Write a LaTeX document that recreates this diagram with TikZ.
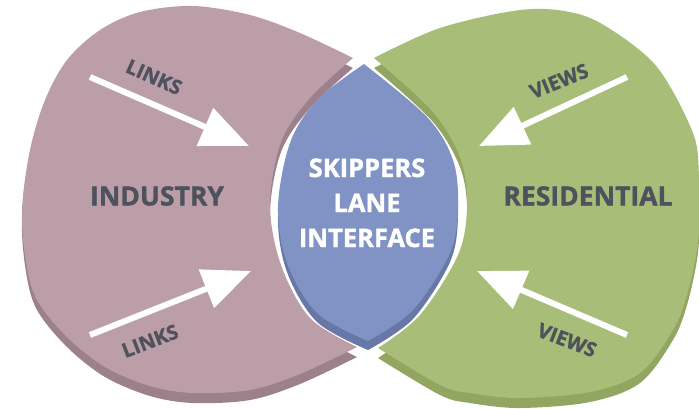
\documentclass[tikz,border=0pt]{standalone}
\usepackage{fontspec}
\setmainfont{Open Sans}[BoldFeatures={FakeBold=1.3}]
\usetikzlibrary{arrows.meta}
\definecolor{pinkface}{RGB}{188,158,168}
\definecolor{pinkside}{RGB}{156,128,140}
\definecolor{greenface}{RGB}{168,189,120}
\definecolor{greenside}{RGB}{146,166,98}
\definecolor{blueface}{RGB}{128,147,196}
\definecolor{blueside}{RGB}{104,120,166}
\definecolor{labelgray}{RGB}{77,82,92}
\newcommand\leftshape[1]{\fill[#1] plot[smooth,tension=0.55] coordinates {(353,58) (300,33) (250,15) (193,6) (140,12) (100,30) (67,60) (45,100) (30,150) (22,210) (26,262) (37,300) (67,337) (105,367) (150,386) (193,393) (250,390) (300,374) (357,347)} -- plot[smooth,tension=0.55] coordinates {(357,347) (310,318) (281,265) (270,205) (281,142) (310,98) (353,58)} -- cycle;}
\newcommand\rightshape[1]{\fill[#1] plot[smooth,tension=0.55] coordinates {(374,58) (440,28) (520,10) (570,12) (607,27) (657,67) (693,133) (699,175) (700,210) (697,250) (687,295) (673,330) (640,373) (590,392) (520,398) (470,393) (440,385) (378,348)} -- plot[smooth,tension=0.55] coordinates {(378,348) (420,315) (458,255) (467,207) (461,160) (433,112) (374,58)} -- cycle;}
\newcommand\lensshape[1]{\fill[#1] plot[smooth,tension=0.55] coordinates {(364,64) (317,100) (290,143) (278,207) (287,263) (317,313) (368,341)} -- plot[smooth,tension=0.55] coordinates {(368,341) (413,310) (450,253) (458,207) (453,160) (427,117) (364,64)} -- cycle;}
\begin{document}
\begin{tikzpicture}[x=1pt,y=-1pt,
  bigtext/.style={font=\bfseries\fontsize{26.5}{32}\selectfont, text=labelgray, inner sep=0pt},
  lenstext/.style={font=\bfseries\fontsize{25.5}{32}\selectfont, text=white, inner sep=0pt, anchor=base},
  smalltext/.style={font=\bfseries\fontsize{20}{24}\selectfont, text=labelgray, inner sep=0pt},
  whitearrow/.style={draw=white, line width=6pt, -{Triangle[length=48pt,width=40pt]}}]
\useasboundingbox (0,0) rectangle (699,408);
% extruded sides
\begin{scope}[shift={(0,10)}]
  \leftshape{pinkside}
  \rightshape{greenside}
\end{scope}
\begin{scope}[shift={(0,9)}]
  \lensshape{blueside}
\end{scope}
% faces
\leftshape{pinkface}
\rightshape{greenface}
\lensshape{blueface}
% texts
\node[bigtext, anchor=base] (industry) at (157,205.5) {INDUSTRY};
\node[bigtext, anchor=base] (residential) at (588,205.5) {RESIDENTIAL};
\node[lenstext] (lens1) at (367,177) {SKIPPERS};
\node[lenstext] (lens2) at (367,212) {LANE};
\node[lenstext] (lens3) at (367,247) {INTERFACE};
\node[smalltext, rotate=-24] (links1) at (154,77) {LINKS};
\node[smalltext, rotate=21] (links2) at (150,341) {LINKS};
\node[smalltext, rotate=22] (views1) at (559,81) {VIEWS};
\node[smalltext, rotate=-21] (views2) at (567,340) {VIEWS};
% arrows
\coordinate (a1s) at (90,77);   \coordinate (a1e) at (249,146);
\coordinate (a2s) at (90,335);  \coordinate (a2e) at (251,271);
\coordinate (a3s) at (627,77);  \coordinate (a3e) at (479,146);
\coordinate (a4s) at (627,335); \coordinate (a4e) at (477,271);
\draw[whitearrow] (a1s) -- (a1e);
\draw[whitearrow] (a2s) -- (a2e);
\draw[whitearrow] (a3s) -- (a3e);
\draw[whitearrow] (a4s) -- (a4e);
\end{tikzpicture}
\end{document}
